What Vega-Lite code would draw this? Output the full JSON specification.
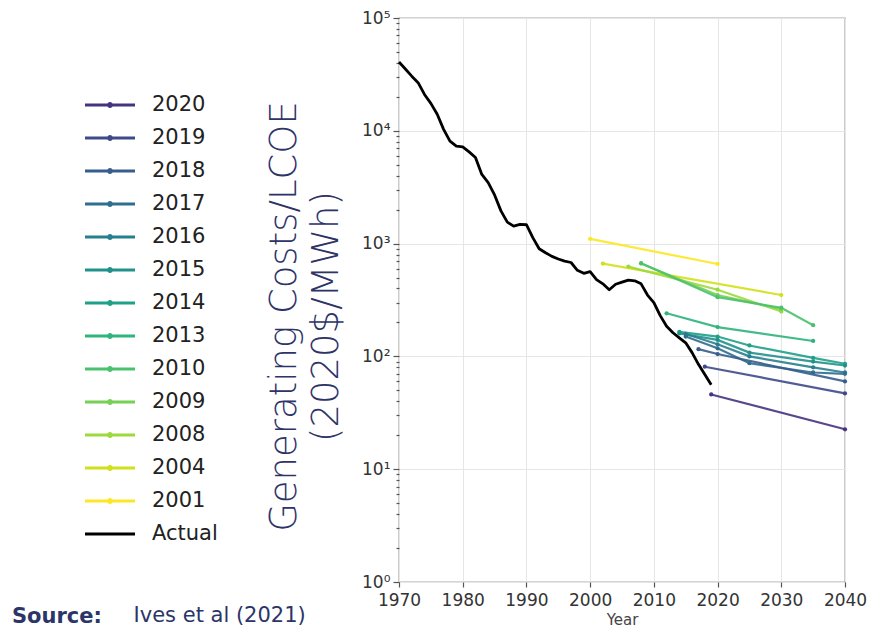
{
  "$schema": "https://vega.github.io/schema/vega-lite/v6.json",
  "padding": {"left": 12, "top": 8, "right": 12, "bottom": 4},
  "background": "white",
  "title": {"text": "Source:", "orient": "bottom", "anchor": "start", "frame": "bounds", "font": "DejaVu Sans", "fontSize": 21, "fontWeight": "bold", "color": "#2b3568", "dx": -84, "dy": -22, "offset": 0},
  "datasets": {
    "costs": [
      {"series": "Actual", "year": 1970, "value": 40700},
      {"series": "Actual", "year": 1971, "value": 35300},
      {"series": "Actual", "year": 1972, "value": 30500},
      {"series": "Actual", "year": 1973, "value": 26700},
      {"series": "Actual", "year": 1974, "value": 21000},
      {"series": "Actual", "year": 1975, "value": 17500},
      {"series": "Actual", "year": 1976, "value": 14000},
      {"series": "Actual", "year": 1977, "value": 10300},
      {"series": "Actual", "year": 1978, "value": 8100},
      {"series": "Actual", "year": 1979, "value": 7300},
      {"series": "Actual", "year": 1980, "value": 7200},
      {"series": "Actual", "year": 1981, "value": 6500},
      {"series": "Actual", "year": 1982, "value": 5800},
      {"series": "Actual", "year": 1983, "value": 4100},
      {"series": "Actual", "year": 1984, "value": 3470},
      {"series": "Actual", "year": 1985, "value": 2700},
      {"series": "Actual", "year": 1986, "value": 1950},
      {"series": "Actual", "year": 1987, "value": 1550},
      {"series": "Actual", "year": 1988, "value": 1430},
      {"series": "Actual", "year": 1989, "value": 1480},
      {"series": "Actual", "year": 1990, "value": 1470},
      {"series": "Actual", "year": 1991, "value": 1130},
      {"series": "Actual", "year": 1992, "value": 900},
      {"series": "Actual", "year": 1993, "value": 830},
      {"series": "Actual", "year": 1994, "value": 770},
      {"series": "Actual", "year": 1995, "value": 730},
      {"series": "Actual", "year": 1996, "value": 700},
      {"series": "Actual", "year": 1997, "value": 680},
      {"series": "Actual", "year": 1998, "value": 580},
      {"series": "Actual", "year": 1999, "value": 545},
      {"series": "Actual", "year": 2000, "value": 565},
      {"series": "Actual", "year": 2001, "value": 480},
      {"series": "Actual", "year": 2002, "value": 440},
      {"series": "Actual", "year": 2003, "value": 390},
      {"series": "Actual", "year": 2004, "value": 436},
      {"series": "Actual", "year": 2005, "value": 455},
      {"series": "Actual", "year": 2006, "value": 475},
      {"series": "Actual", "year": 2007, "value": 468},
      {"series": "Actual", "year": 2008, "value": 440},
      {"series": "Actual", "year": 2009, "value": 350},
      {"series": "Actual", "year": 2010, "value": 300},
      {"series": "Actual", "year": 2011, "value": 230},
      {"series": "Actual", "year": 2012, "value": 185},
      {"series": "Actual", "year": 2013, "value": 162},
      {"series": "Actual", "year": 2014, "value": 146},
      {"series": "Actual", "year": 2015, "value": 132},
      {"series": "Actual", "year": 2016, "value": 108},
      {"series": "Actual", "year": 2017, "value": 85},
      {"series": "Actual", "year": 2018, "value": 69},
      {"series": "Actual", "year": 2019, "value": 56},
      {"series": "2001", "year": 2000, "value": 1100},
      {"series": "2001", "year": 2020, "value": 660},
      {"series": "2004", "year": 2002, "value": 665},
      {"series": "2004", "year": 2030, "value": 350},
      {"series": "2008", "year": 2006, "value": 625},
      {"series": "2008", "year": 2020, "value": 390},
      {"series": "2008", "year": 2030, "value": 250},
      {"series": "2009", "year": 2008, "value": 665},
      {"series": "2009", "year": 2020, "value": 350},
      {"series": "2009", "year": 2030, "value": 262},
      {"series": "2010", "year": 2008, "value": 670},
      {"series": "2010", "year": 2020, "value": 335},
      {"series": "2010", "year": 2030, "value": 270},
      {"series": "2010", "year": 2035, "value": 189},
      {"series": "2013", "year": 2012, "value": 241},
      {"series": "2013", "year": 2020, "value": 182},
      {"series": "2013", "year": 2035, "value": 137},
      {"series": "2014", "year": 2014, "value": 165},
      {"series": "2014", "year": 2020, "value": 150},
      {"series": "2014", "year": 2025, "value": 125},
      {"series": "2014", "year": 2035, "value": 97},
      {"series": "2014", "year": 2040, "value": 86},
      {"series": "2015", "year": 2014, "value": 160},
      {"series": "2015", "year": 2020, "value": 140},
      {"series": "2015", "year": 2025, "value": 108},
      {"series": "2015", "year": 2035, "value": 90},
      {"series": "2015", "year": 2040, "value": 83},
      {"series": "2016", "year": 2015, "value": 158},
      {"series": "2016", "year": 2020, "value": 128},
      {"series": "2016", "year": 2025, "value": 100},
      {"series": "2016", "year": 2035, "value": 80},
      {"series": "2016", "year": 2040, "value": 72},
      {"series": "2017", "year": 2015, "value": 150},
      {"series": "2017", "year": 2020, "value": 118},
      {"series": "2017", "year": 2025, "value": 87},
      {"series": "2017", "year": 2035, "value": 72},
      {"series": "2017", "year": 2040, "value": 70},
      {"series": "2018", "year": 2017, "value": 116},
      {"series": "2018", "year": 2020, "value": 105},
      {"series": "2018", "year": 2040, "value": 60},
      {"series": "2019", "year": 2018, "value": 81},
      {"series": "2019", "year": 2040, "value": 47},
      {"series": "2020", "year": 2019, "value": 46},
      {"series": "2020", "year": 2040, "value": 22.6}
    ]
  },
  "vconcat": [
    {
      "width": 446,
      "height": 564,
      "title": {"text": "Ives et al (2021)", "orient": "bottom", "anchor": "start", "frame": "bounds", "font": "DejaVu Sans", "fontSize": 21, "fontWeight": "normal", "color": "#2b3568", "dx": -132, "dy": -22, "offset": 0},
      "data": {"name": "costs"},
      "encoding": {
        "x": {
          "field": "year", "type": "quantitative", "title": "Year",
          "scale": {"domain": [1970, 2040], "nice": false, "zero": false},
          "axis": {"values": [1970, 1980, 1990, 2000, 2010, 2020, 2030, 2040], "format": "d", "tickSize": 5, "labelPadding": 5, "titlePadding": 4, "labelFontSize": 17, "titleFontSize": 15, "titleFontWeight": "normal", "titleColor": "#444", "labelFlush": false}
        },
        "y": {
          "field": "value", "type": "quantitative",
          "title": ["Generating Costs/LCOE", "(2020$/MWh)"],
          "scale": {"type": "log", "domain": [1, 100000], "nice": false},
          "axis": {
            "values": [1,2,3,4,5,6,7,8,9,10,20,30,40,50,60,70,80,90,100,200,300,400,500,600,700,800,900,1000,2000,3000,4000,5000,6000,7000,8000,9000,10000,20000,30000,40000,50000,60000,70000,80000,90000,100000],
            "labelExpr": "indexof([1,10,100,1000,10000,100000], datum.value) >= 0 ? '10' + ['⁰','¹','²','³','⁴','⁵'][indexof([1,10,100,1000,10000,100000], datum.value)] : ''",
            "labelOverlap": false,
            "labelFlush": false,
            "labelFontSize": 17,
            "labelPadding": 3,
            "tickSize": {"condition": {"test": "indexof([1,10,100,1000,10000,100000], datum.value) >= 0", "value": 6}, "value": 3},
            "gridOpacity": {"condition": {"test": "indexof([1,10,100,1000,10000,100000], datum.value) >= 0", "value": 1}, "value": 0},
            "titleFont": "DejaVu Sans",
            "titleFontSize": 37,
            "titleFontWeight": 300,
            "titleColor": "#2e3468",
            "titleLineHeight": 42,
            "titlePadding": 16,
            "titleY": 298
          }
        },
        "color": {
          "field": "series", "type": "nominal",
          "scale": {
            "domain": ["2020", "2019", "2018", "2017", "2016", "2015", "2014", "2013", "2010", "2009", "2008", "2004", "2001", "Actual"],
            "range": ["#46337f", "#3e4a89", "#365d8d", "#2e6e8e", "#277f8e", "#21918c", "#1fa088", "#2fb47c", "#4ac16d", "#75d054", "#9bd93c", "#d0e11c", "#fde725", "#000000"]
          },
          "legend": {
            "title": null,
            "orient": "none",
            "legendX": -303,
            "legendY": 73,
            "padding": 0,
            "symbolType": {"expr": "datum.value === 'Actual' ? 'M-2,0H2' : 'M-2,0H2M-0.12,0A0.12,0.12,0,1,1,0.12,0A0.12,0.12,0,1,1,-0.12,0'"},
            "symbolSize": 625,
            "symbolStrokeWidth": 3,
            "symbolOpacity": 1,
            "labelFont": "DejaVu Sans",
            "labelFontSize": 21,
            "labelColor": "#222",
            "labelOffset": 28,
            "rowPadding": 9
          }
        }
      },
      "layer": [
        {
          "transform": [{"filter": "datum.series === 'Actual'"}],
          "mark": {"type": "line", "strokeWidth": 2.8, "strokeJoin": "round"}
        },
        {
          "transform": [{"filter": "datum.series !== 'Actual'"}],
          "mark": {"type": "line", "strokeWidth": 2.2, "opacity": 0.9}
        },
        {
          "transform": [{"filter": "datum.series !== 'Actual'"}],
          "mark": {"type": "point", "filled": true, "size": 18, "opacity": 1}
        }
      ]
    }
  ],
  "config": {
    "view": {"stroke": "#555", "strokeWidth": 1.2},
    "font": "DejaVu Sans",
    "axis": {
      "domain": false,
      "tickColor": "#555",
      "tickWidth": 1.2,
      "gridColor": "#e6e6e6",
      "gridWidth": 1,
      "labelColor": "#333",
      "labelFont": "DejaVu Sans"
    }
  }
}
